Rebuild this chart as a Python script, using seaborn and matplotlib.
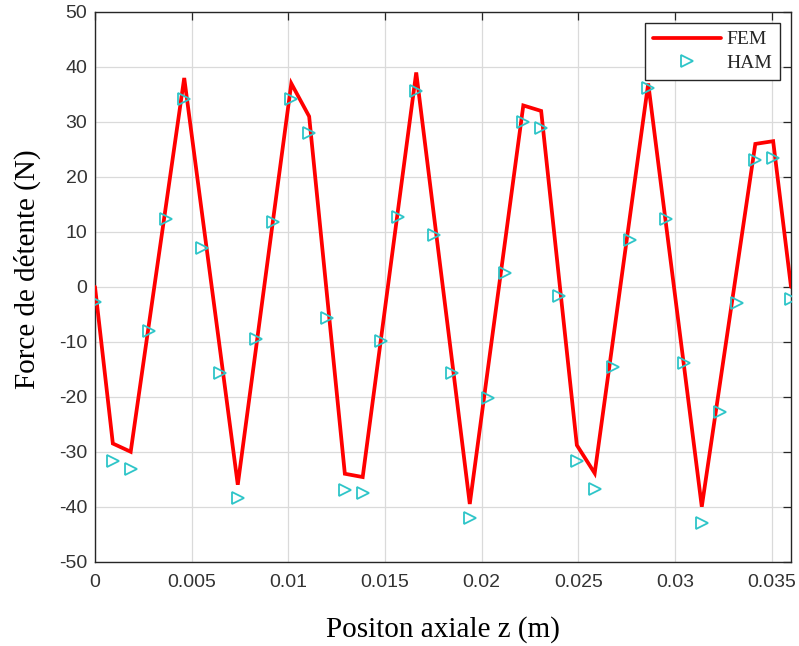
import matplotlib
matplotlib.use("Agg")
import matplotlib.pyplot as plt
import seaborn as sns
import pandas as pd

# ---- data ----
z_pos = [0.0, 0.000923, 0.001846, 0.002769, 0.003692, 0.004615, 0.005538, 0.006462,
         0.007385, 0.008308, 0.009231, 0.010154, 0.011077, 0.012000, 0.012923, 0.013846,
         0.014769, 0.015692, 0.016615, 0.017538, 0.018462, 0.019385, 0.020308, 0.021231,
         0.022154, 0.023077, 0.024000, 0.024923, 0.025846, 0.026769, 0.027692, 0.028615,
         0.029538, 0.030462, 0.031385, 0.032308, 0.033231, 0.034154, 0.035077, 0.036000]

fem = [0.0, -28.5, -30.0, -7.3, 15.3, 38.0, 13.3, -11.3,
       -36.0, -11.7, 12.7, 37.0, 31.0, -1.5, -34.0, -34.6,
       -10.1, 14.5, 39.0, 12.8, -13.3, -39.5, -15.3, 8.8,
       33.0, 32.0, 1.6, -28.8, -33.9, -10.3, 13.4, 37.0,
       11.3, -14.3, -40.0, -18.0, 4.0, 26.0, 26.5, 0.0]

ham = [-2.8, -31.7, -33.2, -8.0, 12.4, 34.2, 7.0, -15.7,
       -38.4, -9.5, 11.8, 34.2, 27.9, -5.7, -36.9, -37.5,
       -9.8, 12.7, 35.7, 9.5, -15.7, -42.0, -20.3, 2.5,
       29.9, 28.9, -1.6, -31.6, -36.7, -14.5, 8.6, 36.1,
       12.4, -13.9, -43.0, -22.7, -2.9, 23.0, 23.4, -2.2]

x_ticks = [0, 0.005, 0.01, 0.015, 0.02, 0.025, 0.03, 0.035]
x_tick_labels = ["0", "0.005", "0.01", "0.015", "0.02", "0.025", "0.03", "0.035"]
y_ticks = [-50, -40, -30, -20, -10, 0, 10, 20, 30, 40, 50]

df = pd.DataFrame({"z": z_pos, "FEM": fem, "HAM": ham})

sns.set_theme(style="white")
plt.rcParams["font.family"] = ["Liberation Sans", "DejaVu Sans"]
plt.rcParams["axes.unicode_minus"] = False

fig = plt.figure(figsize=(7.99, 6.46), dpi=100)
ax = fig.add_axes([95 / 799, (646 - 561.7) / 646, (791 - 95) / 799, (561.7 - 12) / 646])

red = "#ff0000"
cyan = "#2ec5c8"

sns.lineplot(data=df, x="z", y="FEM", ax=ax, color=red, linewidth=2.7,
             label="FEM", solid_joinstyle="miter", zorder=3)
sns.lineplot(data=df, x="z", y="HAM", ax=ax, color=cyan, linestyle="", marker=">",
             markersize=8.5, markerfacecolor="none", markeredgecolor=cyan,
             markeredgewidth=1.3, label="HAM", zorder=4)

ax.set_xlim(0, 0.036)
ax.set_ylim(-50, 50)
ax.set_xticks(x_ticks)
ax.set_xticklabels(x_tick_labels)
ax.set_yticks(y_ticks)

ax.grid(True, color="#dadada", linewidth=0.9)
ax.set_axisbelow(True)

for s in ax.spines.values():
    s.set_color("#262626")
    s.set_linewidth(1.0)
    s.set_visible(True)

ax.tick_params(axis="both", direction="in", length=5.5, width=0.9, color="#262626",
               labelcolor="#333333", labelsize=14, top=True, right=True)
ax.tick_params(axis="x", pad=9)
ax.tick_params(axis="y", pad=5.5)

ax.set_xlabel("Positon axiale z (m)", family=["Liberation Serif"], fontsize=21,
              color="black", labelpad=18)
ax.set_ylabel("Force de détente (N)", family=["Liberation Serif"], fontsize=21,
              color="black")
ax.yaxis.set_label_coords(-0.077, 0.533)

leg = ax.legend(loc="upper right", prop={"family": "Liberation Serif", "size": 14},
                frameon=True, fancybox=False, edgecolor="#262626", framealpha=1,
                borderaxespad=0.55, handlelength=3.5, handletextpad=0.25,
                labelspacing=0.28, borderpad=0.42)
leg.get_frame().set_linewidth(1.0)

fig.savefig("out.png", dpi=100, facecolor="white")
